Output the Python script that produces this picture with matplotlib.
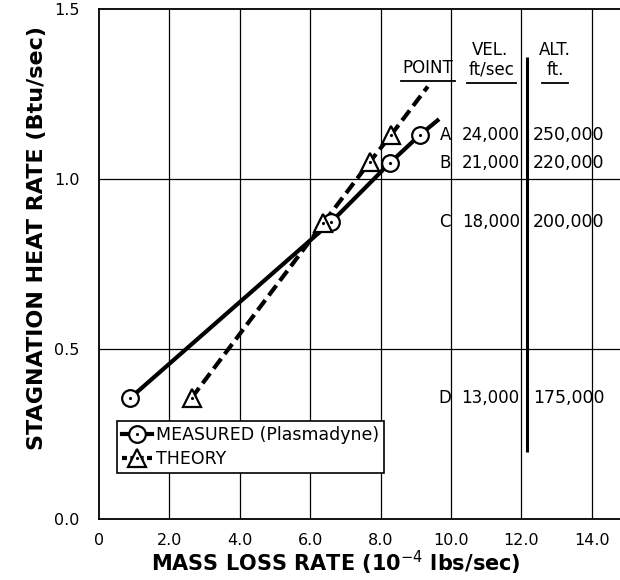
import matplotlib
matplotlib.use("Agg")
import matplotlib.pyplot as plt
from matplotlib.lines import Line2D

# measured points (Plasmadyne), ordered D, C, B, A
measured_x = [0.89, 6.60, 8.27, 9.12]
measured_y = [0.356, 0.874, 1.048, 1.130]
measured_end = (9.66, 1.176)   # where the drawn line stops beyond A

# theory points
theory_x = [2.63, 6.37, 7.69, 8.30]
theory_y = [0.356, 0.870, 1.050, 1.130]
theory_end = (9.34, 1.272)

# table of conditions
point_names = ["D", "C", "B", "A"]
velocities = ["13,000", "18,000", "21,000", "24,000"]
altitudes = ["175,000", "200,000", "220,000", "250,000"]

x_ticks = [0, 2, 4, 6, 8, 10, 12, 14]
x_ticklabels = ["0", "2.0", "4.0", "6.0", "8.0", "10.0", "12.0", "14.0"]
y_ticks = [0.0, 0.5, 1.0, 1.5]
y_ticklabels = ["0.0", "0.5", "1.0", "1.5"]

plt.rcParams["font.family"] = ["DejaVu Sans"]

fig = plt.figure(figsize=(6.2, 5.8), dpi=100)
ax = fig.add_axes([99 / 620, 61 / 580, 521 / 620, 510 / 580])
ax.set_xlim(0, 14.8)
ax.set_ylim(0, 1.5)

for s in ["left", "bottom", "top"]:
    ax.spines[s].set_linewidth(1.3)
ax.spines["right"].set_visible(False)

ax.set_xticks(x_ticks)
ax.set_xticklabels(x_ticklabels, fontsize=11.5)
ax.set_yticks(y_ticks)
ax.set_yticklabels(y_ticklabels, fontsize=11.5)
ax.tick_params(length=0)
ax.tick_params(axis="x", pad=10)
ax.tick_params(axis="y", pad=14)

for xv in x_ticks[1:]:
    ax.axvline(xv, color="black", lw=0.9, zorder=1)
for yv in y_ticks[1:-1]:
    ax.axhline(yv, color="black", lw=0.9, zorder=1)

# lines
ax.plot(measured_x + [measured_end[0]], measured_y + [measured_end[1]],
        color="black", lw=3, solid_capstyle="butt", zorder=3)
ax.plot(theory_x + [theory_end[0]], theory_y + [theory_end[1]],
        color="black", lw=3, linestyle=(0, (3, 1.4)), zorder=3)

# markers
ax.plot(measured_x, measured_y, linestyle="none", marker="o", ms=12,
        mfc="white", mec="black", mew=1.6, zorder=4)
ax.plot(measured_x, measured_y, linestyle="none", marker=".", ms=2.5,
        color="black", zorder=5)
ax.plot(theory_x, theory_y, linestyle="none", marker="^", ms=13,
        mfc="white", mec="black", mew=1.6, zorder=4)
ax.plot(theory_x, theory_y, linestyle="none", marker=".", ms=2.5,
        color="black", zorder=5)

# table
letter_x, vel_x, alt_x = 10.0, 11.95, 12.32
for name, v, a, yv in zip(point_names, velocities, altitudes, measured_y):
    ax.text(letter_x, yv, name, ha="right", va="center", fontsize=12, zorder=6)
    ax.text(vel_x, yv, v, ha="right", va="center", fontsize=12, zorder=6)
    ax.text(alt_x, yv, a, ha="left", va="center", fontsize=12.5, zorder=6)

ax.text(9.35, 1.326, "POINT", ha="center", va="center", fontsize=12)
ax.text(11.1, 1.379, "VEL.", ha="center", va="center", fontsize=12)
ax.text(11.15, 1.322, "ft/sec", ha="center", va="center", fontsize=12)
ax.text(12.95, 1.379, "ALT.", ha="center", va="center", fontsize=12)
ax.text(12.95, 1.322, "ft.", ha="center", va="center", fontsize=12)

divider_x = 12.16
ax.vlines(divider_x, 0.197, 1.36, color="black", lw=2.2, zorder=2)

# underlines under the headers
fig.canvas.draw()
rend = fig.canvas.get_renderer()
inv = ax.transData.inverted()
for t in ax.texts[-5:]:
    if t.get_text() in ("POINT", "ft/sec", "ft."):
        bb = t.get_window_extent(rend).transformed(inv)
        pad = 0.12 if t.get_text() == "ft." else 0.04
        ax.plot([bb.x0 - pad, bb.x1 + pad], [bb.y0 - 0.012] * 2,
                color="black", lw=1.3, zorder=6)

# legend
h_meas = (Line2D([], [], color="black", lw=3, marker="o", ms=12,
                 mfc="white", mec="black", mew=1.6),
          Line2D([], [], linestyle="none", marker=".", ms=2.5, color="black"))
h_theo = (Line2D([], [], color="black", lw=3, linestyle=(0, (1.2, 0.8)),
                 marker="^", ms=13, mfc="white", mec="black", mew=1.6),
          Line2D([], [], linestyle="none", marker=".", ms=2.5, color="black"))
leg = ax.legend([h_meas, h_theo], ["MEASURED (Plasmadyne)", "THEORY"],
                loc="lower left", bbox_to_anchor=(117 / 620, 107 / 580),
                bbox_transform=fig.transFigure, borderaxespad=0,
                fontsize=12.5, handlelength=1.7, handletextpad=0.25,
                borderpad=0.3, labelspacing=0.35, fancybox=False,
                framealpha=1, edgecolor="black")
leg.get_frame().set_linewidth(1.2)
leg.set_zorder(7)

fig.text(336 / 620, 1 - 563 / 580, "MASS LOSS RATE (10$^{-4}$ lbs/sec)",
         ha="center", va="center", fontsize=15, fontweight="bold")
fig.text(37 / 620, 1 - 238 / 580, "STAGNATION HEAT RATE (Btu/sec)",
         ha="center", va="center", rotation=90, fontsize=16, fontweight="bold")

fig.savefig("out.png", dpi=100)
